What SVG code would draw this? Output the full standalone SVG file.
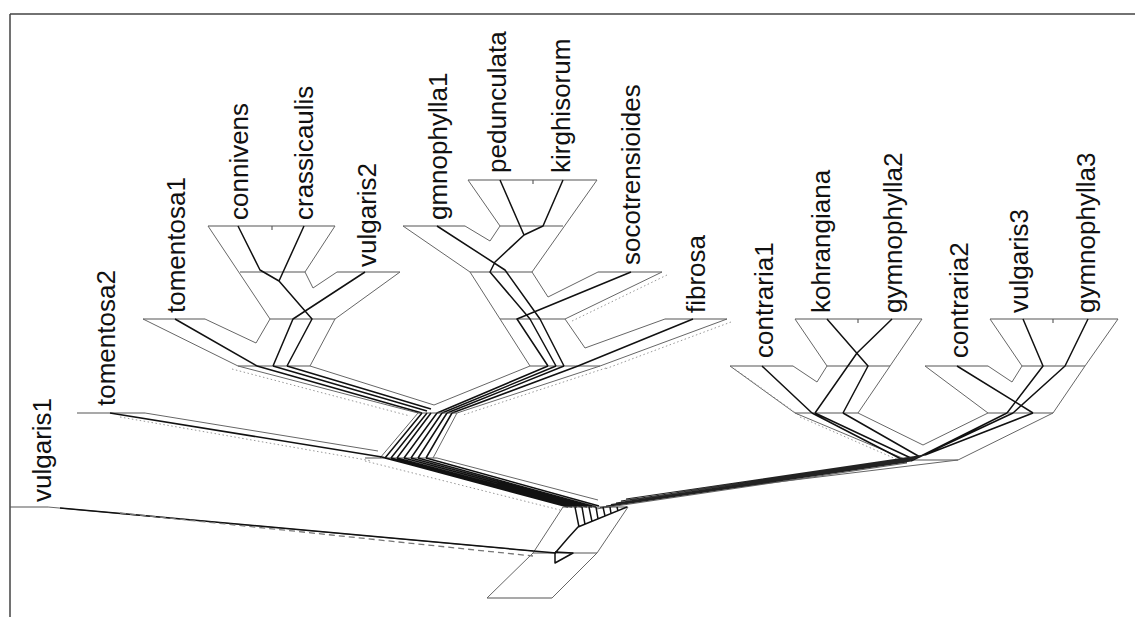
<svg xmlns="http://www.w3.org/2000/svg" width="1135" height="617" viewBox="0 0 1135 617">
<style>
.frame{stroke:#444;stroke-width:1.5;fill:none}
.lvl{stroke:#555;stroke-width:1.1;fill:none}
.edge{stroke:#666;stroke-width:1;fill:none}
.dot{stroke:#999;stroke-width:1;fill:none;stroke-dasharray:1.5 2.5}
.dash{stroke:#777;stroke-width:1.3;fill:none;stroke-dasharray:6 4}
.gene{stroke:#111;stroke-width:1.5;fill:none;stroke-linejoin:round}
.band{stroke:#222;stroke-width:1.1;fill:none}
text{font-family:"Liberation Sans",Arial,sans-serif;font-size:26px;fill:#111}
</style>
<rect width="1135" height="617" fill="#fff"/>
<path class="frame" d="M10,14H1135M10,14V617"/>

<g id="labels">
<text transform="translate(51,502) rotate(-90)">vulgaris1</text>
<text transform="translate(115,406) rotate(-90)">tomentosa2</text>
<text transform="translate(185,313) rotate(-90)">tomentosa1</text>
<text transform="translate(248,220) rotate(-90)">connivens</text>
<text transform="translate(313,220) rotate(-90)">crassicaulis</text>
<text transform="translate(376,267) rotate(-90)">vulgaris2</text>
<text transform="translate(447,220) rotate(-90)">gmnophylla1</text>
<text transform="translate(506,173) rotate(-90)">pedunculata</text>
<text transform="translate(570,173) rotate(-90)">kirghisorum</text>
<text transform="translate(640,265) rotate(-90)">socotrensioides</text>
<text transform="translate(705,313) rotate(-90)">fibrosa</text>
<text transform="translate(773,358) rotate(-90)">contraria1</text>
<text transform="translate(830,313) rotate(-90)">kohrangiana</text>
<text transform="translate(902,313) rotate(-90)">gymnophylla2</text>
<text transform="translate(968,358) rotate(-90)">contraria2</text>
<text transform="translate(1028,313) rotate(-90)">vulgaris3</text>
<text transform="translate(1095,313) rotate(-90)">gymnophylla3</text>
</g>

<g id="cladeT">
<path class="lvl" d="M208,226H335M272,226V230M240,272H305M337,272H400M143,319H205M270,319H335M238,366H310"/>
<path class="edge" d="M208,226L270,319M335,226L305,272L313,288L337,272M400,272L335,319M205,319L256,343L270,319M143,319L238,366M335,319L310,366"/>
<path class="gene" d="M238,226L260,270L279,281M304,226L279,281L312,319L287,366M365,272L293,319L273,366M175,319L257,366"/>
<path class="edge" d="M238,366L418,413M310,366L434,405"/>
<path class="dot" d="M232,369L410,416"/>
<path class="gene" d="M257,366L422,413M273,366L427,411M287,366L431,409"/>
</g>

<g id="cladeG">
<path class="lvl" d="M468,180H597M533,180V184M403,226H465M500,226H563M470,272H532M598,272H662M500,319H565M665,319H727M530,366H600"/>
<path class="edge" d="M468,180L500,226M597,180L532,272M465,226L490,241L500,226M403,226L470,272L500,319L530,366M532,272L548,297L598,272M662,272L565,319M565,319L585,348L665,319M727,319L600,366"/>
<path class="dot" d="M667,275L570,322M731,322L605,369"/>
<path class="gene" d="M500,180L524,235M563,180L543,226L524,235L495,262L490,272L530,319L556,366M437,226L505,270L540,319L564,366M631,272L517,319L548,366M693,319L578,366"/>
<path class="edge" d="M530,366L434,405M600,366L457,413"/>
<path class="dot" d="M606,368L463,415"/>
<path class="gene" d="M548,366L437,413M556,366L442,413M564,366L447,413M578,366L452,413"/>
</g>

<g id="cladeTG">
<path class="lvl" d="M418,413H457M365,458H437"/>
<path class="edge" d="M418,413L380,458M457,413L433,458"/>
<path class="gene" d="M422,413L385,458M427,413L391,458M431,413L397,458M437,413L404,458M442,413L411,458M447,413L418,458M452,413L426,458"/>
</g>

<g id="tomentosa2">
<path class="lvl" d="M77,413H145"/>
<path class="edge" d="M145,413L378,451"/>
<path class="gene" d="M110,413L382,457"/>
<path class="dot" d="M120,417L372,461"/>
</g>

<g id="branchTG">
<path class="edge" d="M437,458L598,500"/>
<path class="dot" d="M365,461L560,510"/>
<path class="gene" d="M382,457L568,507M385,458L572,507M391,458L577,507M397,458L582,507M404,458L587,507M411,458L592,507M418,458L596,507M426,458L599,506"/>
</g>

<g id="cladeC1">
<path class="lvl" d="M795,319H922M858,319V323M730,366H793M827,366H890M795,413H858"/>
<path class="edge" d="M795,319L827,366M922,319L890,366M793,366L817,382L827,366M730,366L795,413M890,366L858,413"/>
<path class="dot" d="M735,369L800,416"/>
<path class="gene" d="M762,366L812,413M827,319L868,366L843,413M892,319L857,353L815,413"/>
</g>

<g id="cladeC2">
<path class="lvl" d="M990,319H1118M1053,319V323M925,366H988M1022,366H1085M988,413H1053"/>
<path class="edge" d="M990,319L1022,366M1118,319L1085,366M988,366L1012,382L1022,366M925,366L988,413M1085,366L1053,413"/>
<path class="gene" d="M957,366L1033,413M1023,319L1043,366L1007,413M1088,319L1065,366L1013,413"/>
</g>

<g id="cladeC">
<path class="lvl" d="M907,460H958"/>
<path class="edge" d="M795,413L907,460M858,413L923,445L988,413M1053,413L958,460"/>
<path class="dot" d="M800,417L905,463"/>
<path class="gene" d="M812,413L907,462M815,413L914,459.5M843,413L920,457M1007,413L911,461M1013,413L917,458M1033,413L925,455"/>
<path class="edge" d="M907,463L596,509M958,460L630,500"/>
<path class="band" d="M925,455L626,499M921,456.5L621,501M917,458L616,503M914,459.5L611,504.5M911,461L606,506M907,462L600,507.5"/>
</g>

<g id="root">
<path class="lvl" d="M563,507H628M533,553H597M487,598H552"/>
<path class="edge" d="M563,507L533,553M628,507L597,553M533,553L487,598M597,553L552,598"/>
<path class="gene" d="M575,507L579,527M582,507L585,524.5M589,507L592,521.5M596,507L598,519M603,507L605,516M610,507L611,513.5M617,507L618,511M627,507L578,527L568,538L556,552M555,552V563L573,553L555,552"/>
</g>

<g id="vulgaris1">
<path class="lvl" d="M10,507H48"/>
<path class="edge" d="M48,507L533,551"/>
<path class="gene" d="M60,508L556,553"/>
<path class="dash" d="M120,513L533,556"/>
</g>
</svg>
